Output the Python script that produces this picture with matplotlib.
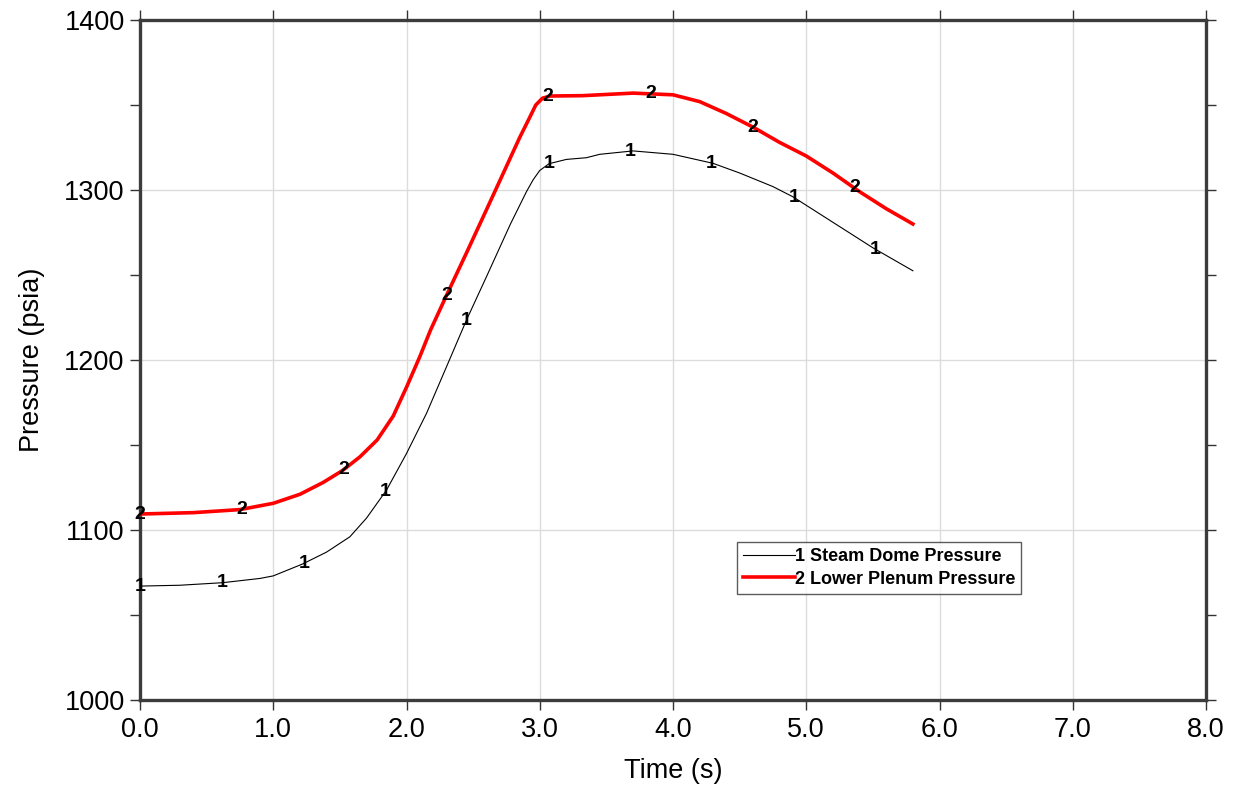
"""
Steam dome and lower plenum pressure vs. time.
"""

import matplotlib
matplotlib.use("Agg")
import matplotlib.pyplot as plt
from matplotlib.ticker import MultipleLocator, FormatStrFormatter
import numpy as np

plt.rcParams["font.family"] = ["Liberation Sans", "DejaVu Sans"]

# Series 1: steam dome pressure (psia)
t_dome = [0.0, 0.3, 0.62, 0.9, 1.0, 1.22, 1.4, 1.575, 1.70, 1.85, 2.0, 2.15,
          2.3, 2.45, 2.6, 2.78, 2.9, 2.95, 3.0, 3.07, 3.2, 3.35, 3.45, 3.7,
          4.0, 4.3, 4.5, 4.75, 4.9, 5.0, 5.25, 5.5, 5.8]
p_dome = [1067, 1067.5, 1069, 1071.5, 1073, 1080, 1087, 1096, 1107, 1123.5,
          1145, 1168.6, 1196, 1223.5, 1249, 1280, 1299, 1306, 1311.5, 1315.5,
          1318, 1319, 1321, 1323, 1321, 1315.7, 1310, 1302, 1296, 1291,
          1278.5, 1266, 1252.5]

# Series 2: lower plenum pressure (psia)
t_plenum = [0.0, 0.4, 0.75, 1.0, 1.2, 1.375, 1.52, 1.65, 1.78, 1.9, 2.0, 2.1,
            2.18, 2.3, 2.45, 2.58, 2.68, 2.85, 2.92, 2.97, 3.02, 3.08, 3.32,
            3.7, 4.0, 4.2, 4.4, 4.6, 4.8, 5.0, 5.2, 5.4, 5.6, 5.8]
p_plenum = [1109.4, 1110.2, 1112, 1115.7, 1121, 1128, 1135, 1143, 1153, 1167,
            1184, 1202, 1217.6, 1238, 1263, 1285, 1302, 1331, 1342, 1350,
            1354, 1355.3, 1355.5, 1357, 1356, 1352, 1345, 1337, 1328, 1320,
            1310, 1299, 1289, 1280]

# Where the curve-number symbols sit along each series
label_t_dome = [0.0, 0.62, 1.23, 1.84, 2.45, 3.07, 3.68, 4.29, 4.91, 5.52]
label_t_plenum = [0.0, 0.76, 1.53, 2.3, 3.06, 3.83, 4.6, 5.36]

series_names = ["Steam Dome Pressure", "Lower Plenum Pressure"]

fig = plt.figure(figsize=(12.39, 7.85), dpi=100)
ax = fig.add_axes([0.113, 0.1083, 0.8604, 0.8662])

ax.plot(t_dome, p_dome, color="black", linewidth=0.8, zorder=3,
        label="1 " + series_names[0])
ax.plot(t_plenum, p_plenum, color="#ff0000", linewidth=2.6, zorder=3,
        label="2 " + series_names[1])

# Curve number symbols drawn on the lines
for tt in label_t_dome:
    ax.text(tt, np.interp(tt, t_dome, p_dome), "1", fontsize=14,
            fontweight="bold", ha="center", va="center", zorder=5)
for tt in label_t_plenum:
    ax.text(tt, np.interp(tt, t_plenum, p_plenum), "2", fontsize=14,
            fontweight="bold", ha="center", va="center", zorder=5)

ax.set_xlim(0, 8)
ax.set_ylim(1000, 1400)
ax.xaxis.set_major_locator(MultipleLocator(1.0))
ax.xaxis.set_major_formatter(FormatStrFormatter("%.1f"))
ax.yaxis.set_major_locator(MultipleLocator(100))
ax.yaxis.set_minor_locator(MultipleLocator(50))

ax.grid(True, which="major", color="#dcdcdc", linewidth=1.0, zorder=0)
ax.set_axisbelow(True)

ax.tick_params(axis="both", which="both", direction="out", color="#333333",
               top=True, right=True, labelsize=19.5, width=1.0)
ax.tick_params(axis="both", which="major", length=7, pad=4)
ax.tick_params(axis="y", which="minor", length=7)
ax.tick_params(axis="x", which="major", pad=5)

for sp in ax.spines.values():
    sp.set_color("#3c3c3c")
    sp.set_linewidth(2.4)

ax.set_xlabel("Time (s)", fontsize=19.5, labelpad=11)
ax.set_ylabel("Pressure (psia)", fontsize=19.5, labelpad=14)

leg = ax.legend(loc="upper left", bbox_to_anchor=(0.56, 0.2324),
                fontsize=13, frameon=True, fancybox=False,
                handlelength=2.85, handletextpad=0.0, borderpad=0.35,
                labelspacing=0.3, borderaxespad=0)
leg.get_frame().set_edgecolor("#333333")
leg.get_frame().set_linewidth(1.0)
for txt in leg.get_texts():
    txt.set_fontweight("bold")

fig.savefig("out.png", dpi=100)
